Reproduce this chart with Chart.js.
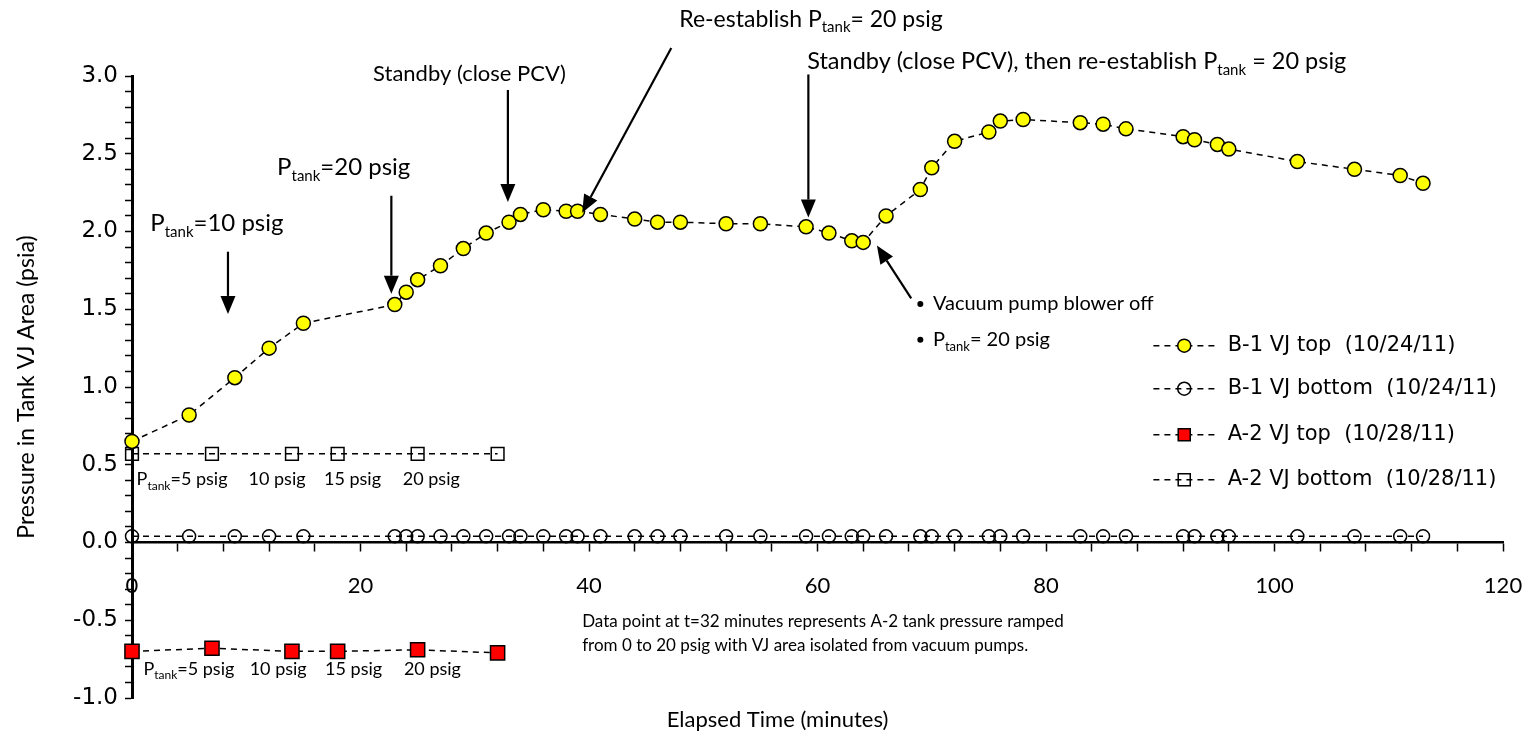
<!DOCTYPE html>
<html>
<head>
<meta charset="utf-8">
<script src="https://cdn.jsdelivr.net/npm/chart.js@4.4.0/dist/chart.umd.min.js"></script>
<style>
html,body{margin:0;padding:0;background:#fff}
</style>
</head>
<body>
<canvas id="c" width="1528" height="734"></canvas>
<script>
// B-1 tank, 10/24/11
var b1Time   = [0,5,9,12,15,23,24,25,27,29,31,33,34,36,38,39,41,44,46,48,52,55,59,61,63,64,66,69,70,72,75,76,78,83,85,87,92,93,95,96,102,107,111,113];
var b1Top    = [0.65,0.82,1.06,1.25,1.41,1.53,1.61,1.69,1.78,1.89,1.99,2.06,2.11,2.14,2.13,2.13,2.11,2.08,2.06,2.06,2.05,2.05,2.03,1.99,1.94,1.93,2.10,2.27,2.41,2.58,2.64,2.71,2.72,2.70,2.69,2.66,2.61,2.59,2.56,2.53,2.45,2.40,2.36,2.31];
var b1Bottom = [0.04,0.04,0.04,0.04,0.04,0.04,0.04,0.04,0.04,0.04,0.04,0.04,0.04,0.04,0.04,0.04,0.04,0.04,0.04,0.04,0.04,0.04,0.04,0.04,0.04,0.04,0.04,0.04,0.04,0.04,0.04,0.04,0.04,0.04,0.04,0.04,0.04,0.04,0.04,0.04,0.04,0.04,0.04,0.04];
// A-2 tank, 10/28/11
var a2Time   = [0,7,14,18,25,32];
var a2Top    = [-0.70,-0.68,-0.70,-0.70,-0.69,-0.71];
var a2Bottom = [0.57,0.57,0.57,0.57,0.57,0.57];

var seriesNames = ['B-1 VJ top  (10/24/11)','B-1 VJ bottom  (10/24/11)','A-2 VJ top  (10/28/11)','A-2 VJ bottom  (10/28/11)'];

function pts(xs, ys){ return xs.map(function(x,i){ return {x:x, y:ys[i]}; }); }

// annotations, in chart units (minutes, psia)
var notes = [
  {t:1.6,  v:2.06, size:24, parts:[['P'],['tank',1],['=10 psig']]},
  {t:12.7, v:2.42, size:24, parts:[['P'],['tank',1],['=20 psig']]},
  {t:21.1, v:3.02, size:22, parts:[['Standby (close PCV)']]},
  {t:47.9, v:3.37, size:23, parts:[['Re-establish P'],['tank',1],['= 20 psig']]},
  {t:59.1, v:3.10, size:23.5, parts:[['Standby (close PCV), then re-establish P'],['tank',1],[' = 20 psig']]},
  {t:70.1, v:1.54, size:20, parts:[['Vacuum pump blower off']], bullet:69.0},
  {t:70.1, v:1.31, size:20, parts:[['P'],['tank',1],['= 20 psig']], bullet:69.0},
  {t:0.4,  v:0.41, size:18, parts:[['P'],['tank',1],['=5 psig']]},
  {t:10.2, v:0.41, size:18, parts:[['10 psig']]},
  {t:16.8, v:0.41, size:18, parts:[['15 psig']]},
  {t:23.7, v:0.41, size:18, parts:[['20 psig']]},
  {t:1.0,  v:-0.81, size:18, parts:[['P'],['tank',1],['=5 psig']]},
  {t:10.3, v:-0.81, size:18, parts:[['10 psig']]},
  {t:16.9, v:-0.81, size:18, parts:[['15 psig']]},
  {t:23.8, v:-0.81, size:18, parts:[['20 psig']]},
  {t:39.4, v:-0.505, size:17, parts:[['Data point at t=32 minutes represents A-2 tank pressure ramped']]},
  {t:39.4, v:-0.66, size:17, parts:[['from 0 to 20 psig with VJ area isolated from vacuum pumps.']]}
];
var arrows = [
  [8.4, 1.87, 8.4, 1.47],
  [22.7, 2.23, 22.7, 1.60],
  [32.9, 2.91, 32.9, 2.19],
  [47.2, 3.18, 39.4, 2.12],
  [59.2, 3.01, 59.2, 2.09],
  [68.2, 1.57, 65.2, 1.91]
];
var legendRows = [1.266, 0.989, 0.693, 0.403];

var FONT = 'Lato, "Open Sans", sans-serif';

function drawRich(ctx, x, y, parts, size){
  var base = y + size * 0.36;
  parts.forEach(function(p){
    var sub = p[1];
    var fs = sub ? Math.round(size * 0.64) : size;
    ctx.font = fs + 'px ' + FONT;
    ctx.fillText(p[0], x, sub ? base + size * 0.25 : base);
    x += ctx.measureText(p[0]).width;
  });
}

function drawArrow(ctx, x1, y1, x2, y2){
  var a = Math.atan2(y2 - y1, x2 - x1), L = 18, W = 7.5;
  var bx = x2 - L * Math.cos(a), by = y2 - L * Math.sin(a);
  ctx.beginPath(); ctx.moveTo(x1, y1); ctx.lineTo(bx, by); ctx.stroke();
  ctx.beginPath();
  ctx.moveTo(x2, y2);
  ctx.lineTo(bx + W * Math.sin(a), by - W * Math.cos(a));
  ctx.lineTo(bx - W * Math.sin(a), by + W * Math.cos(a));
  ctx.closePath(); ctx.fill();
}

var extras = {
  id: 'extras',
  afterDraw: function(chart){
    var ctx = chart.ctx, xs = chart.scales.x, ys = chart.scales.y;
    ctx.save();
    ctx.fillStyle = '#000'; ctx.strokeStyle = '#000';
    ctx.textAlign = 'left'; ctx.textBaseline = 'alphabetic';
    notes.forEach(function(n){
      var px = xs.getPixelForValue(n.t), py = ys.getPixelForValue(n.v);
      if (n.bullet !== undefined) {
        ctx.beginPath(); ctx.arc(xs.getPixelForValue(n.bullet), py + 1, 3, 0, Math.PI * 2); ctx.fill();
      }
      drawRich(ctx, px, py, n.parts, n.size);
    });
    ctx.lineWidth = 2.2;
    arrows.forEach(function(a){
      drawArrow(ctx, xs.getPixelForValue(a[0]), ys.getPixelForValue(a[1]), xs.getPixelForValue(a[2]), ys.getPixelForValue(a[3]));
    });
    // legend
    chart.data.datasets.forEach(function(ds, i){
      var y = ys.getPixelForValue(legendRows[i]);
      var x1 = xs.getPixelForValue(89.4), x2 = xs.getPixelForValue(94.8), xm = xs.getPixelForValue(92.1);
      ctx.strokeStyle = '#000';
      ctx.lineWidth = 1.5; ctx.setLineDash([6, 5]);
      ctx.beginPath(); ctx.moveTo(x1, y); ctx.lineTo(x2, y); ctx.stroke();
      ctx.setLineDash([]);
      ctx.fillStyle = ds.pointBackgroundColor;
      Chart.helpers.drawPoint(ctx, {pointStyle: ds.pointStyle, radius: ds.pointStyle === 'rect' ? 8.5 : 6.5, borderWidth: 1.5, rotation: 0}, xm, y);
      ctx.fillStyle = '#000';
      ctx.font = '21px "DejaVu Sans", sans-serif';
      ctx.textBaseline = 'middle';
      ctx.fillText(seriesNames[i], xs.getPixelForValue(95.9), y);
      ctx.textBaseline = 'alphabetic';
    });
    // x axis title
    ctx.font = '22px ' + FONT;
    ctx.textAlign = 'center'; ctx.textBaseline = 'middle';
    ctx.fillText('Elapsed Time (minutes)', xs.getPixelForValue(56.5), 720);
    ctx.restore();
  }
};

function ds(label, data, style, fill, r){
  return {
    label: label, data: data, showLine: true,
    borderColor: '#000', borderWidth: 1.5, borderDash: [6, 5],
    pointStyle: style, pointRadius: r, pointHoverRadius: r,
    pointBackgroundColor: fill, pointBorderColor: '#000', pointBorderWidth: 1.5,
    fill: false, clip: false, tension: 0
  };
}

new Chart(document.getElementById('c'), {
  type: 'scatter',
  data: {
    datasets: [
      ds(seriesNames[0], pts(b1Time, b1Top), 'circle', '#ffff00', 7),
      ds(seriesNames[1], pts(b1Time, b1Bottom), 'circle', 'rgba(0,0,0,0)', 6.5),
      ds(seriesNames[2], pts(a2Time, a2Top), 'rect', '#ff0000', 10),
      ds(seriesNames[3], pts(a2Time, a2Bottom), 'rect', 'rgba(0,0,0,0)', 9)
    ]
  },
  options: {
    responsive: false,
    animation: false,
    layout: { padding: { top: 76, bottom: 36, right: 25, left: 0 } },
    plugins: { legend: { display: false }, tooltip: { enabled: false } },
    scales: {
      x: {
        type: 'linear', min: 0, max: 120, position: { y: 0 },
        afterFit: function(s){ s.paddingLeft = 0; s.paddingRight = 0; },
        ticks: { stepSize: 4, autoSkip: false, maxRotation: 0, padding: 22, color: '#000',
                 font: { family: FONT, size: 22 },
                 callback: function(v){ return v % 20 === 0 ? String(v) : ''; } },
        grid: { drawOnChartArea: false, drawTicks: true, tickLength: 8, tickColor: '#000', tickWidth: 1.5 },
        border: { color: '#000', width: 2.5 }
      },
      y: {
        type: 'linear', min: -1, max: 3,
        afterFit: function(s){ s.width = 132; },
        ticks: { stepSize: 0.1, autoSkip: false, padding: 7, color: '#000',
                 font: { family: '"DejaVu Sans", sans-serif', size: 23 },
                 callback: function(v){ var r = Math.round(v * 10); return r % 5 === 0 ? v.toFixed(1) : ''; } },
        grid: { drawOnChartArea: false, drawTicks: true, tickLength: 7, tickColor: '#000', tickWidth: 1.5 },
        border: { color: '#000', width: 3 },
        title: { display: true, text: 'Pressure in Tank VJ Area (psia)', color: '#000',
                 font: { family: FONT, size: 23 }, padding: { top: 13, bottom: 0 } }
      }
    }
  },
  plugins: [extras]
});
</script>
</body>
</html>
